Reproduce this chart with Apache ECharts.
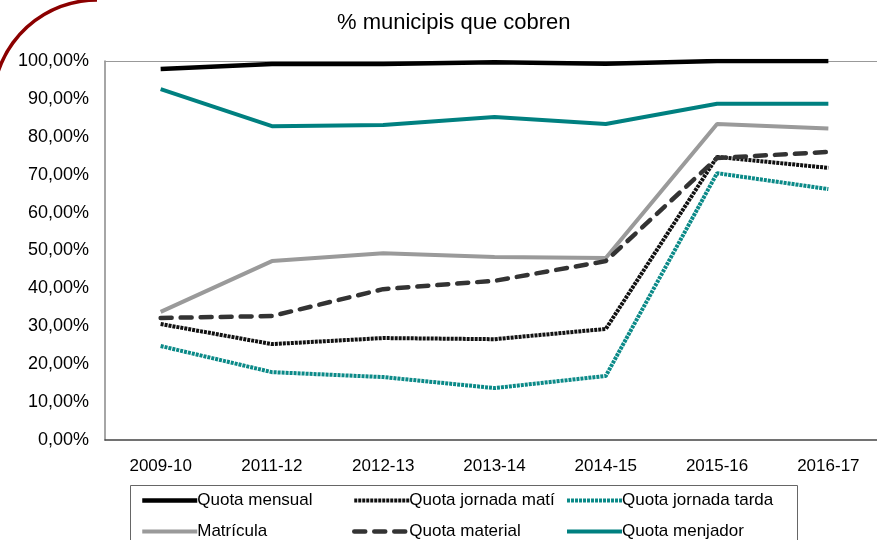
<!DOCTYPE html>
<html>
<head>
<meta charset="utf-8">
<script src="https://cdn.jsdelivr.net/npm/echarts@6/dist/echarts.min.js"></script>
<style>
  html, body { margin: 0; padding: 0; background: #fff; }
  #chart { width: 877px; height: 540px; }
</style>
</head>
<body>
<div id="chart"></div>
<script>
  // dades llegides del gràfic (%)
  const cursos = ['2009-10', '2011-12', '2012-13', '2013-14', '2014-15', '2015-16', '2016-17']
  const quotaMensual = [97.9, 99.2, 99.2, 99.7, 99.3, 100, 100]
  const quotaMati = [30.6, 25.3, 26.9, 26.6, 29.3, 74.7, 71.8]
  const quotaTarda = [24.8, 17.9, 16.6, 13.7, 16.9, 70.4, 66.2]
  const matricula = [33.8, 47.2, 49.3, 48.3, 48.0, 83.4, 82.2]
  const quotaMaterial = [32.2, 32.7, 39.8, 42.0, 47.2, 74.4, 76.0]
  const quotaMenjador = [92.6, 82.8, 83.1, 85.2, 83.4, 88.7, 88.7]

  const font = '"Liberation Sans", Arial, sans-serif'

  const chart = echarts.init(document.getElementById('chart'))

  const legendBase = {
    orient: 'vertical',
    top: 492,
    height: 120,
    padding: 0,
    itemWidth: 55,
    itemHeight: 14,
    itemGap: 14,
    itemStyle: { opacity: 0 },
    lineStyle: { width: 'inherit' },
    textStyle: { color: '#000', fontSize: 17, fontFamily: font, padding: [0, 0, 0, -5] }
  }

  const option = {
    animation: false,
    title: {
      text: '% municipis que cobren',
      left: 337,
      top: 12,
      padding: 0,
      textStyle: { color: '#000', fontSize: 22, fontWeight: 'normal', fontFamily: font }
    },
    grid: {
      left: 105,
      width: 779,
      top: 61,
      bottom: 100,
      outerBoundsMode: 'none'
    },
    legend: [
      Object.assign({}, legendBase, { left: 140, data: ['Quota mensual', 'Matrícula'] }),
      Object.assign({}, legendBase, { left: 352, data: ['Quota jornada matí', 'Quota material'] }),
      Object.assign({}, legendBase, { left: 565, data: ['Quota jornada tarda', 'Quota menjador'] })
    ],
    graphic: [
      {
        type: 'rect',
        shape: { x: 130.5, y: 485.5, width: 667, height: 70 },
        style: { fill: 'none', stroke: '#666', lineWidth: 1 },
        z: -1
      },
      {
        type: 'arc',
        shape: { cx: 97, cy: 104, r: 104, startAngle: Math.PI * 0.95, endAngle: Math.PI * 1.5 },
        style: { fill: 'none', stroke: '#8b0000', lineWidth: 3.5 }
      }
    ],
    xAxis: [
      {
        type: 'category',
        data: cursos,
        boundaryGap: true,
        axisLine: { lineStyle: { color: '#444', width: 1.5 } },
        axisTick: { show: false },
        axisLabel: { color: '#000', fontSize: 17, fontFamily: font, margin: 18 }
      },
      {
        // vora superior de l'àrea del gràfic
        type: 'category',
        data: cursos,
        position: 'top',
        axisLine: { lineStyle: { color: '#999', width: 1 } },
        axisTick: { show: false },
        axisLabel: { show: false }
      }
    ],
    yAxis: {
      type: 'value',
      min: 0,
      max: 100,
      interval: 10,
      splitLine: { show: false },
      axisLine: { show: true, lineStyle: { color: '#888', width: 1.5 } },
      axisTick: { show: false },
      axisLabel: {
        color: '#000',
        fontSize: 18,
        fontFamily: font,
        margin: 16,
        formatter: v => v.toFixed(2).replace('.', ',') + '%'
      }
    },
    series: [
      {
        name: 'Quota mensual',
        type: 'line',
        data: quotaMensual,
        showSymbol: false,
        lineStyle: { color: '#000', width: 4.5 },
        itemStyle: { color: '#000' },
        z: 8
      },
      {
        name: 'Quota jornada matí',
        type: 'line',
        data: quotaMati,
        showSymbol: false,
        lineStyle: { color: '#111', width: 4, type: [3, 1] },
        itemStyle: { color: '#111' }
      },
      {
        name: 'Quota jornada tarda',
        type: 'line',
        data: quotaTarda,
        showSymbol: false,
        lineStyle: { color: '#0b8a88', width: 4, type: [3, 1] },
        itemStyle: { color: '#0b8a88' }
      },
      {
        name: 'Matrícula',
        type: 'line',
        data: matricula,
        showSymbol: false,
        lineStyle: { color: '#9a9a9a', width: 4 },
        itemStyle: { color: '#9a9a9a' }
      },
      {
        name: 'Quota material',
        type: 'line',
        data: quotaMaterial,
        showSymbol: false,
        lineStyle: { color: '#333', width: 4.5, type: [11, 9], cap: 'round' },
        itemStyle: { color: '#333' }
      },
      {
        name: 'Quota menjador',
        type: 'line',
        data: quotaMenjador,
        showSymbol: false,
        lineStyle: { color: '#008080', width: 4 },
        itemStyle: { color: '#008080' }
      }
    ]
  }

  chart.setOption(option)
  window.onresize = () => {
    chart.resize()
  }
</script>
</body>
</html>
